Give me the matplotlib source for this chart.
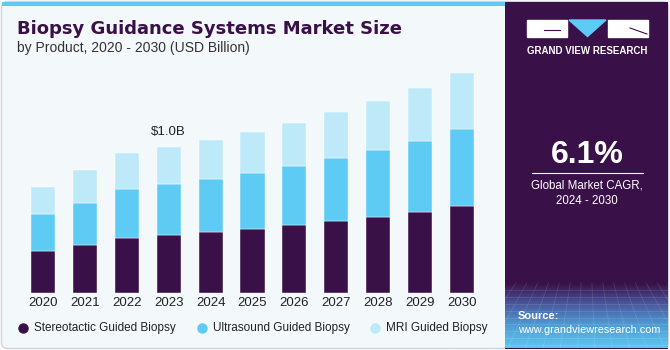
import numpy as np
import matplotlib.pyplot as plt
from matplotlib.patches import Rectangle, Polygon, FancyBboxPatch
from matplotlib.colors import LinearSegmentedColormap

years = ["2020", "2021", "2022", "2023", "2024", "2025", "2026", "2027", "2028", "2029", "2030"]
stereotactic = [0.287, 0.328, 0.374, 0.399, 0.417, 0.437, 0.465, 0.492, 0.517, 0.554, 0.597]
ultrasound = [0.253, 0.285, 0.335, 0.346, 0.362, 0.383, 0.403, 0.431, 0.458, 0.487, 0.524]
mri = [0.187, 0.228, 0.246, 0.255, 0.267, 0.282, 0.296, 0.314, 0.335, 0.358, 0.381]
series_names = ["Stereotactic Guided Biopsy", "Ultrasound Guided Biopsy", "MRI Guided Biopsy"]
colors = ["#3a1048", "#5ecbf5", "#bde9f8"]

PURPLE = "#3a1048"
W, H = 670, 350

plt.rcParams["font.family"] = ["Liberation Sans", "DejaVu Sans"]
fig = plt.figure(figsize=(6.7, 3.5), dpi=100)
fig.patch.set_facecolor("white")

# background layer, pixel coords (y down)
bg = fig.add_axes([0, 0, 1, 1])
bg.axis("off")
bg.add_patch(FancyBboxPatch((1.5, 1.5), W - 3, H - 3, boxstyle="round,pad=0,rounding_size=6",
                            facecolor="#f3f8fb", edgecolor="#d0d4d8", lw=1, zorder=1))
bg.add_patch(Rectangle((1.5, 1.5), 504, 4, facecolor="#5ecbf5", edgecolor="none", zorder=2))
bg.add_patch(Rectangle((505, 1.5), W - 507, H - 3, facecolor=PURPLE, edgecolor="none", zorder=2))

# bottom gradient of side panel with faint grid
grad = np.linspace(0, 1, 100).reshape(-1, 1)
cmap = LinearSegmentedColormap.from_list("g", [PURPLE, "#4a5aa0", "#4f9fd6", "#5ec6f0"])
bg.imshow(grad, extent=(505, W - 2, H - 2, 283), aspect="auto", cmap=cmap, zorder=3)
for yy in np.linspace(290, 345, 9):
    bg.plot([505, W - 2], [yy, yy], color="white", alpha=0.12, lw=0.6, zorder=4)
for xx in np.linspace(505, W - 2, 16):
    bg.plot([xx, 587 + (xx - 587) * 1.6], [283, H - 2], color="white", alpha=0.12, lw=0.6, zorder=4)

# titles
bg.text(17, 29, "Biopsy Guidance Systems Market Size", fontsize=13, fontweight="bold",
        family="DejaVu Sans", color=PURPLE, va="center", ha="left", zorder=6)
bg.text(17, 48, "by Product, 2020 - 2030 (USD Billion)", fontsize=10, color="#333333",
        va="center", ha="left", zorder=6)

# logo
bg.fill([527, 567, 567, 527], [20, 20, 36.5, 36.5], color="white", zorder=7)
bg.fill([608, 648, 648, 608], [20, 20, 36.5, 36.5], color="white", zorder=7)
bg.fill([569, 606, 587.5], [20, 20, 36.5], color="#5ecbf5", zorder=7)
bg.plot([544, 560], [30, 30], color=PURPLE, lw=0.8, zorder=8)
bg.plot([630, 647], [28, 34], color=PURPLE, lw=0.8, zorder=8)
bg.text(587.5, 51, "GRAND VIEW RESEARCH", fontsize=7, fontweight="bold", color="white",
        ha="center", va="center", zorder=8)

# CAGR block
bg.text(587, 155, "6.1%", fontsize=23, fontweight="bold", color="white", ha="center", va="center", zorder=8)
bg.plot([532, 643], [173, 173], color="white", lw=0.8, zorder=8)
bg.text(587, 186, "Global Market CAGR,", fontsize=8.3, color="white", ha="center", va="center", zorder=8)
bg.text(587, 201, "2024 - 2030", fontsize=8.3, color="white", ha="center", va="center", zorder=8)

bg.text(518, 316, "Source:", fontsize=8, fontweight="bold", color="white", ha="left", va="center", zorder=8)
bg.text(518, 330, "www.grandviewresearch.com", fontsize=7.8, color="white", ha="left", va="center", zorder=8)

# legend drawn by hand at reference positions
leg_x = [23, 202, 375]
for lx, name, c in zip(leg_x, series_names, colors):
    bg.scatter([lx], [328], s=42, color=c, zorder=8)
    bg.text(lx + 11, 328, name, fontsize=8.5, color="#222222", ha="left", va="center", zorder=8)

bg.set_xlim(0, W)
bg.set_ylim(H, 0)

# chart axes
ax = fig.add_axes([0, 57 / H, 505 / W, 230 / H])
ax.set_facecolor("none")
x = np.arange(len(years))
bottom = np.zeros(len(years))
for vals, name, c in zip([stereotactic, ultrasound, mri], series_names, colors):
    ax.bar(x, vals, width=0.573, bottom=bottom, color=c, edgecolor="white", linewidth=0.3, label=name)
    bottom = bottom + np.array(vals)

ax.set_xlim(-1.026, 11.026)
ax.set_ylim(0, 1.572)
for s in ax.spines.values():
    s.set_visible(False)
ax.set_yticks([])
ax.set_xticks(x)
ax.set_xticklabels(years, fontsize=9.5, color="#222222")
ax.tick_params(axis="x", length=0, pad=3)

ax.annotate("$1.0B", (x[3], bottom[3]), xytext=(0, 6), textcoords="offset points",
            ha="center", va="bottom", fontsize=9.5, color="#222222")

plt.savefig("out.png", dpi=100)
